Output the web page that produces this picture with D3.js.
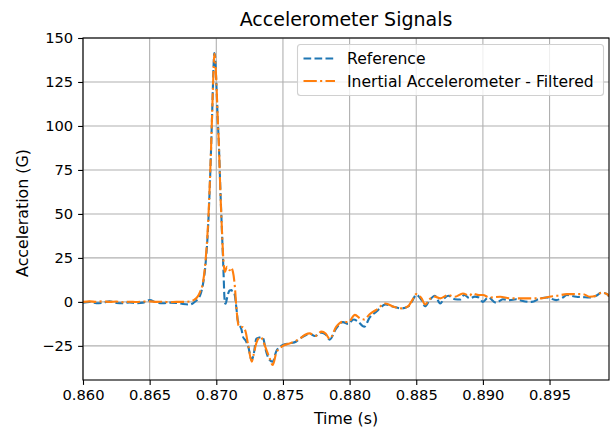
<!DOCTYPE html>
<html>
<head>
<meta charset="utf-8">
<script src="https://cdn.jsdelivr.net/npm/d3@7"></script>
<style>
  html, body { margin: 0; padding: 0; background: #fff; }
  svg { display: block; font-family: "DejaVu Sans", sans-serif; }
</style>
</head>
<body>
<svg id="chart" width="613" height="428"></svg>
<script>
// Time stamps (s) and acceleration (G) of the reference sensor
const refTime = [0.8600,0.8605,0.8610,0.8615,0.8620,0.8625,0.8630,0.8635,0.8640,0.8645,0.8650,0.8655,0.8660,0.8665,0.8670,0.8675,0.8680,0.8683,0.8686,0.8688,0.8690,0.8692,0.8694,0.8696,0.8697,0.8698,0.86985,0.8699,0.8700,0.8701,0.8702,0.8703,0.8704,0.8705,0.87055,0.8706,0.87065,0.8707,0.8708,0.8709,0.8710,0.87115,0.8712,0.87135,0.8715,0.8716,0.8717,0.8719,0.8720,0.8722,0.8724,0.87265,0.8728,0.8730,0.87315,0.8734,0.87353,0.8737,0.8740,0.87423,0.8745,0.8750,0.8755,0.8760,0.8763,0.8767,0.8770,0.8774,0.8779,0.8782,0.8785,0.8790,0.8795,0.8799,0.8803,0.8806,0.8811,0.8815,0.8820,0.8827,0.8833,0.8839,0.8844,0.8847,0.8850,0.8854,0.88566,0.8860,0.8864,0.8868,0.8871,0.8874,0.8879,0.8883,0.8886,0.8890,0.8894,0.8897,0.8900,0.8904,0.8910,0.8915,0.8920,0.8925,0.8930,0.89366,0.8943,0.8948,0.8955,0.8960,0.8963,0.8970,0.8975,0.8980,0.8985,0.8989,0.8993,0.89946];
const refAccel = [-0.5,0,-0.8,-0.5,0.3,-0.6,-0.8,-0.3,-0.7,-0.4,1.0,-0.3,-0.8,-0.4,-0.6,-1.2,-1.5,-0.5,1.5,4,10,22,45,85,110,135,141.5,140,125,105,88,65,45,25,15,4,-0.5,-1,2,5,6.5,6.8,5.5,4.8,-3,-10,-12.5,-16,-19.8,-22,-25.5,-33,-30,-21,-20.5,-20,-21,-27,-33,-34,-28,-24.5,-23.6,-22.5,-20.7,-19,-18,-19.4,-17.5,-18.5,-21.5,-15,-11.5,-12.5,-10,-11,-14.1,-9,-5.6,-1.5,-2.8,-3.7,-2.6,0.5,4,1,-2.5,1,3.5,-0.9,2,3.5,1.5,1.4,4,2,3,2.5,0,2.5,-0.5,1.5,1,1.5,0.5,0,2,2.5,1,2.5,3.9,2.9,2.7,2.5,3.5,5.2,4.5,3.2];

// Time stamps (s) and acceleration (G) of the filtered inertial accelerometer
const filtTime = [0.8600,0.8605,0.8610,0.8615,0.8620,0.8625,0.8630,0.8635,0.8640,0.8645,0.8650,0.8655,0.8660,0.8665,0.8670,0.8675,0.8680,0.8683,0.8686,0.8688,0.8690,0.8692,0.8694,0.8696,0.8697,0.8698,0.86985,0.8699,0.8700,0.8701,0.8702,0.8703,0.8704,0.8705,0.87065,0.8708,0.8709,0.8710,0.8711,0.87125,0.8714,0.8715,0.8717,0.8719,0.8720,0.8722,0.8724,0.87266,0.8728,0.8730,0.8733,0.8734,0.8737,0.8740,0.87423,0.8745,0.8750,0.8755,0.8760,0.8763,0.8767,0.8770,0.8774,0.8779,0.8782,0.8785,0.8790,0.8795,0.8799,0.8804,0.8808,0.8811,0.8815,0.8820,0.8827,0.8833,0.8839,0.8844,0.8847,0.8850,0.8854,0.88566,0.8860,0.8864,0.8868,0.8874,0.8879,0.8885,0.8890,0.8892,0.8897,0.8900,0.8905,0.8913,0.8920,0.8928,0.8934,0.8943,0.8950,0.8956,0.8963,0.8970,0.8975,0.8980,0.8985,0.8989,0.8993,0.89946];
const filtAccel = [0,0.3,0,0.3,0,0.2,-0.2,0.1,-0.1,0.2,0.3,0,0.1,-0.2,0,0,0.2,1,3,6,11,24,47,86,110,133,141,139,126,106,88,64,45,28,17,20,19.5,18,19.5,17,8,-2.7,-14,-14.2,-14.4,-17,-25,-34,-30,-23.5,-20,-20.5,-26,-32,-35.9,-29,-25,-23.6,-22,-20.7,-18.5,-17.9,-19.4,-16.9,-18,-21,-14.1,-11.3,-11.5,-7.4,-9.5,-10,-7,-4.5,-0.9,-2.8,-3.7,-2.4,1,4.4,2,-1.5,1.5,3,2,3.9,2.9,4.8,3.5,4.8,3.9,3.9,2.5,2.9,2,2,2,2,2.9,3.5,4.4,4.4,4.4,2.9,3.5,5.2,4.5,3.2];

const xTicks = [0.860,0.865,0.870,0.875,0.880,0.885,0.890,0.895];
const yTicks = [-25,0,25,50,75,100,125,150];
const seriesNames = ["Reference","Inertial Accelerometer - Filtered"];

const svg = d3.select("#chart");
const m = {left: 83, right: 609, top: 38, bottom: 380};

const x = d3.scaleLinear().domain([0.86, 0.89946]).range([m.left, m.right]);
const y = d3.scaleLinear().domain([-44.4, 150]).range([m.bottom, m.top]);

// grid
const grid = svg.append("g");
grid.selectAll(".gx").data(xTicks).join("line")
  .attr("x1", d => x(d)).attr("x2", d => x(d))
  .attr("y1", m.top).attr("y2", m.bottom)
  .attr("stroke", "#b0b0b0").attr("stroke-width", 1.1);
grid.selectAll(".gy").data(yTicks).join("line")
  .attr("x1", m.left).attr("x2", m.right)
  .attr("y1", d => y(d)).attr("y2", d => y(d))
  .attr("stroke", "#b0b0b0").attr("stroke-width", 1.1);

// series
const line = d3.line().x(d => x(d[0])).y(d => y(d[1])).curve(d3.curveMonotoneX);
const refData = refTime.map((t, i) => [t, refAccel[i]]);
const filtData = filtTime.map((t, i) => [t, filtAccel[i]]);

svg.append("clipPath").attr("id", "clip")
  .append("rect").attr("x", m.left).attr("y", m.top)
  .attr("width", m.right - m.left).attr("height", m.bottom - m.top);

const plot = svg.append("g").attr("clip-path", "url(#clip)");
plot.append("path").datum(refData).attr("d", line)
  .attr("fill", "none").attr("stroke", "#1f77b4").attr("stroke-width", 2.1)
  .attr("stroke-dasharray", "7.7,3.3");
plot.append("path").datum(filtData).attr("d", line)
  .attr("fill", "none").attr("stroke", "#ff7f0e").attr("stroke-width", 2.1)
  .attr("stroke-dasharray", "13.3,3.3,2.1,3.3");

// axes
const xAxis = d3.axisBottom(x).tickValues(xTicks).tickFormat(d3.format(".3f")).tickSizeOuter(0).tickSize(4.9).tickPadding(4.9);
const yAxis = d3.axisLeft(y).tickValues(yTicks).tickFormat(d => d < 0 ? "\u2212" + Math.abs(d) : d).tickSizeOuter(0).tickSize(4.9).tickPadding(4.9);

const gx = svg.append("g").attr("transform", `translate(0,${m.bottom})`).call(xAxis);
const gy = svg.append("g").attr("transform", `translate(${m.left},0)`).call(yAxis);
[gx, gy].forEach(g => {
  g.select(".domain").remove();
  g.selectAll(".tick line").attr("stroke", "#000").attr("stroke-width", 1.1);
  g.selectAll(".tick text").attr("fill", "#000").style("font-size", "14.7px").style("font-family", "DejaVu Sans");
});

// frame
svg.append("rect").attr("x", m.left).attr("y", m.top)
  .attr("width", m.right - m.left).attr("height", m.bottom - m.top)
  .attr("fill", "none").attr("stroke", "#000").attr("stroke-width", 1.1);

// titles
svg.append("text").attr("x", (m.left + m.right) / 2).attr("y", 26)
  .attr("text-anchor", "middle").style("font-size", "19px").text("Accelerometer Signals");
svg.append("text").attr("x", (m.left + m.right) / 2).attr("y", 424)
  .attr("text-anchor", "middle").style("font-size", "15.8px").text("Time (s)");
svg.append("text").attr("transform", `translate(28,${(m.top + m.bottom) / 2 + 4}) rotate(-90)`)
  .attr("text-anchor", "middle").style("font-size", "15.8px").text("Acceleration (G)");

// legend
const lg = svg.append("g");
lg.append("rect").attr("x", 297.5).attr("y", 44.5).attr("width", 306).attr("height", 51)
  .attr("rx", 3).attr("fill", "#fff").attr("fill-opacity", 0.8)
  .attr("stroke", "#d0d0d0").attr("stroke-width", 1.1);
const legendStyles = [
  {color: "#1f77b4", dash: "7.7,3.3"},
  {color: "#ff7f0e", dash: "13.3,3.3,2.1,3.3"}
];
seriesNames.forEach((name, i) => {
  const cy = 58.5 + i * 22.5;
  lg.append("line").attr("x1", 303.5).attr("x2", 335).attr("y1", cy).attr("y2", cy)
    .attr("stroke", legendStyles[i].color).attr("stroke-width", 2.1)
    .attr("stroke-dasharray", legendStyles[i].dash);
  lg.append("text").attr("x", 347).attr("y", cy + 5.5)
    .style("font-size", "15.6px").text(name);
});
</script>
</body>
</html>
